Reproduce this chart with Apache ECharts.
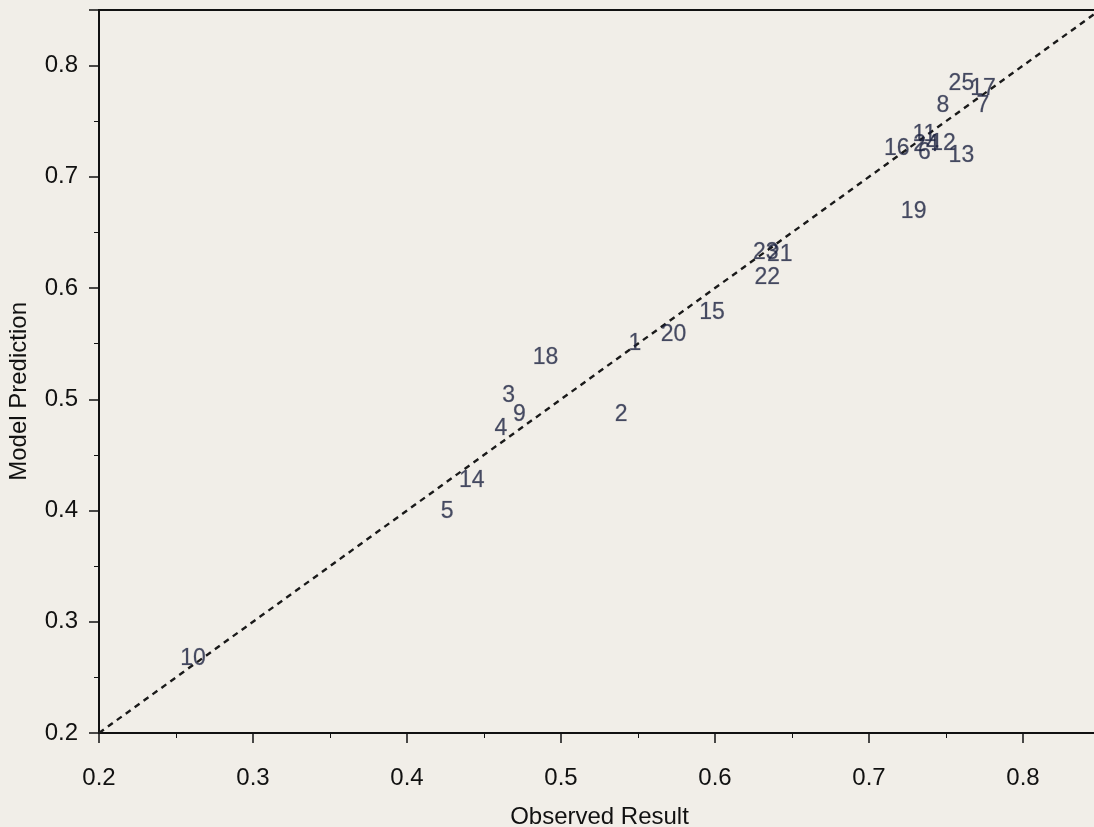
<!DOCTYPE html>
<html>
<head>
<meta charset="utf-8">
<script src="https://cdn.jsdelivr.net/npm/echarts@6/dist/echarts.min.js"></script>
<style>
html,body{margin:0;padding:0;background:#f1eee8;}
#chart{width:1094px;height:827px;}
</style>
</head>
<body>
<div id="chart"></div>
<script>
const ids =       ['10','5','14','4','3','9','18','2','1','20','15','23','21','22','19','16','24','6','11','12','13','8','25','17','7'];
const observed =  [0.261,0.426,0.442,0.461,0.466,0.473,0.490,0.539,0.548,0.573,0.598,0.633,0.642,0.634,0.729,0.718,0.737,0.736,0.736,0.748,0.760,0.748,0.760,0.774,0.774];
const predicted = [0.267,0.399,0.427,0.474,0.503,0.486,0.537,0.486,0.550,0.558,0.578,0.632,0.630,0.609,0.669,0.725,0.729,0.722,0.738,0.730,0.719,0.764,0.784,0.779,0.764];
const refLine = [0.2, 0.85];
const xTicks = [0.2,0.3,0.4,0.5,0.6,0.7,0.8];
const yTicks = [0.2,0.3,0.4,0.5,0.6,0.7,0.8];
const xTitle = 'Observed Result';
const yTitle = 'Model Prediction';

const chart = echarts.init(document.getElementById('chart'));
const font = 'Liberation Sans, Arial, Helvetica, sans-serif';
const axisCommon = {
  type: 'value', min: 0.2, max: 0.85, interval: 0.1,
  axisLine: {show: true, lineStyle: {color: '#111', width: 2}},
  axisTick: {show: true, length: 10, inside: false, lineStyle: {color: '#111', width: 1.5}},
  minorTick: {show: true, splitNumber: 2, length: 5, lineStyle: {color: '#111', width: 1}},
  splitLine: {show: false},
  nameLocation: 'middle',
  nameTextStyle: {color: '#111', fontSize: 24, fontFamily: font}
};
chart.setOption({
  backgroundColor: '#f1eee8',
  animation: false,
  grid: {left: 99, top: 10, width: 1001, height: 723, outerBoundsMode: 'none', containLabel: false,
    show: true, borderColor: '#111', borderWidth: 2, backgroundColor: 'transparent'},
  graphic: [{
    type: 'text', left: 7, top: 302, rotation: Math.PI / 2,
    style: {text: yTitle, fill: '#111', font: '24px ' + font}
  }],
  xAxis: Object.assign({}, axisCommon, {
    name: xTitle, nameGap: 72,
    axisLabel: {color: '#111', fontSize: 24, fontFamily: font, margin: 33, showMaxLabel: false,
      formatter: v => xTicks.some(t => Math.abs(t - v) < 1e-9) ? v.toFixed(1) : ''}
  }),
  yAxis: Object.assign({}, axisCommon, {
    name: '',
    axisLabel: {color: '#111', fontSize: 24, fontFamily: font, margin: 21, showMaxLabel: false,
      formatter: v => yTicks.some(t => Math.abs(t - v) < 1e-9) ? v.toFixed(1) : ''}
  }),
  series: [
    {
      type: 'line', data: refLine.map(v => [v, v]), symbol: 'none', silent: true,
      lineStyle: {color: '#1a1a1a', width: 2.4, type: [6, 5]}, z: 1
    },
    {
      type: 'scatter',
      data: ids.map((id, i) => ({name: id, value: [observed[i], predicted[i]]})),
      symbolSize: 20,
      itemStyle: {color: 'rgba(0,0,0,0)'},
      label: {show: true, position: 'inside', formatter: p => p.name,
        color: '#1c2240', fontSize: 23, fontFamily: font, textBorderColor: 'rgba(28,34,64,0.35)', textBorderWidth: 0.6},
      z: 3
    }
  ]
});
</script>
</body>
</html>
